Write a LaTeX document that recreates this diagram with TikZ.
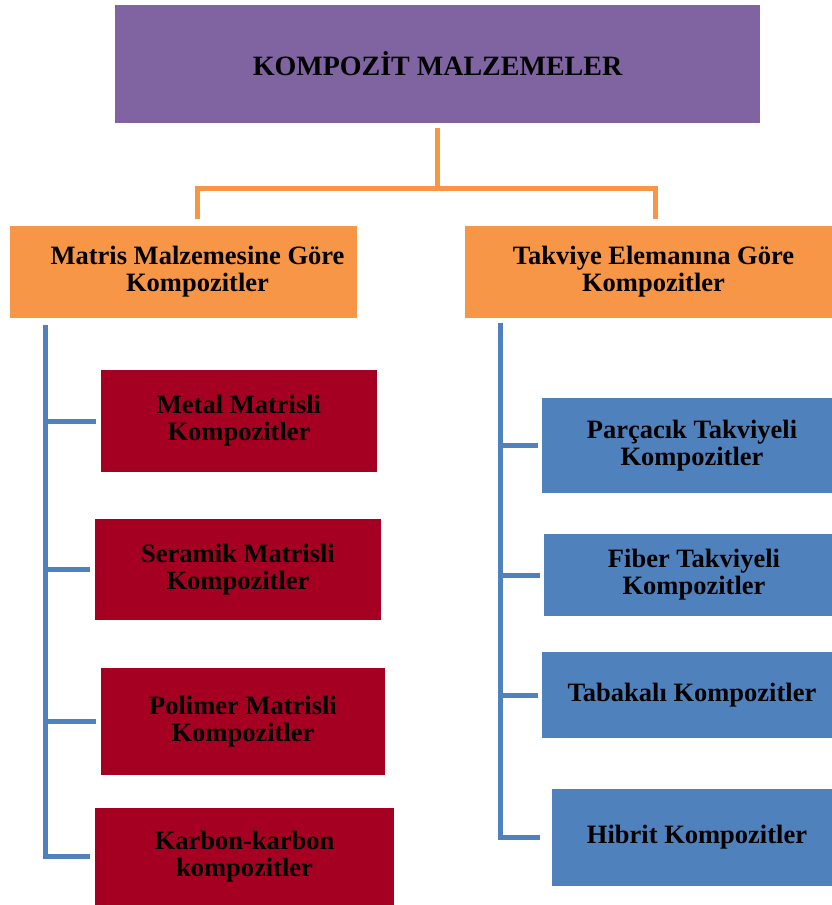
\documentclass[tikz,border=0pt]{standalone}
\usepackage{fontspec}
\setmainfont{Liberation Serif}
\definecolor{headpurple}{HTML}{8064A2}
\definecolor{grouporange}{HTML}{F79646}
\definecolor{matrixred}{HTML}{A50021}
\definecolor{fiberblue}{HTML}{4F81BD}
\tikzset{
    box/.style={rectangle, inner sep=0pt, align=center, text=black,
        font=\fontsize{26.5}{27}\selectfont\bfseries},
    boxtext/.style={inner sep=0pt, align=center, text=black,
        font=\fontsize{26.5}{27}\selectfont\bfseries},
    orangeline/.style={draw=grouporange, line width=5pt},
    blueline/.style={draw=fiberblue, line width=5pt}
}
\begin{document}
\begin{tikzpicture}[x=1pt, y=-1pt]
    \useasboundingbox (0,0) rectangle (832,905);

    % Main heading
    \node[box, fill=headpurple, minimum width=645pt, minimum height=118pt,
        font=\fontsize{28}{30}\selectfont\bfseries] (top) at (437.5,64) {KOMPOZİT MALZEMELER};

    % Two groups (text sits a little right of the box centre)
    \node[box, fill=grouporange, minimum width=347pt, minimum height=92pt,
        label={[boxtext, xshift=14pt]center:{Matris Malzemesine Göre\\Kompozitler}}] (mat) at (183.5,272) {};
    \node[box, fill=grouporange, minimum width=367pt, minimum height=92pt,
        label={[boxtext, xshift=5pt]center:{Takviye Elemanına Göre\\Kompozitler}}] (tak) at (648.5,272) {};

    % Matrix types
    \node[box, fill=matrixred, minimum width=276pt, minimum height=102pt] (m1) at (239,421) {Metal Matrisli\\Kompozitler};
    \node[box, fill=matrixred, minimum width=286pt, minimum height=101pt] (m2) at (238,569.5) {Seramik Matrisli\\Kompozitler};
    \node[box, fill=matrixred, minimum width=284pt, minimum height=107pt] (m3) at (243,721.5) {Polimer Matrisli\\Kompozitler};
    \node[box, fill=matrixred, minimum width=299pt, minimum height=97pt] (m4) at (244.5,856.5) {Karbon-karbon\\kompozitler};

    % Reinforcement types
    \node[box, fill=fiberblue, minimum width=290pt, minimum height=95pt,
        label={[boxtext, xshift=5pt]center:{Parçacık Takviyeli\\Kompozitler}}] (t1) at (687,445.5) {};
    \node[box, fill=fiberblue, minimum width=288pt, minimum height=82pt,
        label={[boxtext, xshift=6pt]center:{Fiber Takviyeli\\Kompozitler}}] (t2) at (688,575) {};
    \node[box, fill=fiberblue, minimum width=290pt, minimum height=86pt,
        label={[boxtext, xshift=5pt]center:{Tabakalı Kompozitler}}] (t3) at (687,695) {};
    \node[box, fill=fiberblue, minimum width=280pt, minimum height=97pt,
        label={[boxtext, xshift=5pt]center:{Hibrit Kompozitler}}] (t4) at (692,837.5) {};

    % Orange branches
    \coordinate (busL) at (197,188);
    \coordinate (busR) at (655,188);
    \draw[orangeline] ([yshift=-5pt]top.south) -- (top.south |- busL);
    \draw[orangeline, line join=miter] ([yshift=7pt]busL |- mat.north) -- (busL) -- (busR) -- ([yshift=7pt]busR |- tak.north);

    % Left tree
    \coordinate (spineL) at (45,325);
    \draw[blueline, line join=miter] (spineL) -- (spineL |- m4) -- ([xshift=-5pt]m4.west);
    \foreach \n in {m1,m2,m3}
        \draw[blueline] (spineL |- \n) -- ([xshift=-5pt]\n.west);

    % Right tree
    \coordinate (spineR) at (500,323);
    \draw[blueline, line join=miter] (spineR) -- (spineR |- t4) -- ([xshift=-12pt]t4.west);
    \foreach \n in {t1,t2,t3}
        \draw[blueline] (spineR |- \n) -- ([xshift=-4pt]\n.west);
\end{tikzpicture}
\end{document}
